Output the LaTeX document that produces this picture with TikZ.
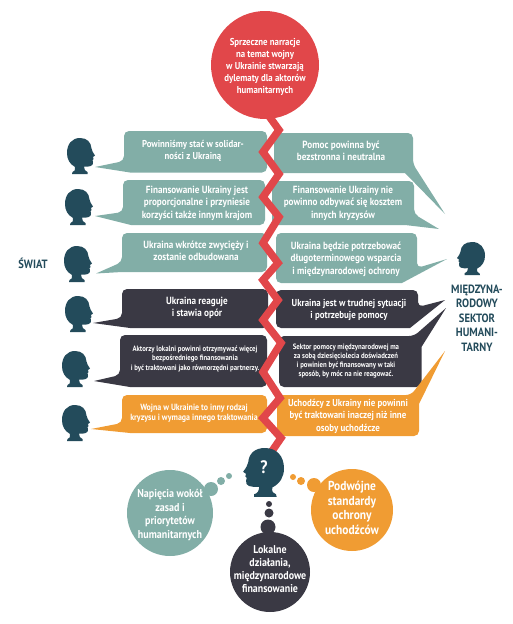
\documentclass[tikz,border=0pt]{standalone}
\usepackage{fontspec}
\setmainfont{PT Sans}[BoldFont={PT Sans Bold},FakeStretch=0.88]
\definecolor{cteal}{HTML}{82AEA7}
\definecolor{cdark}{HTML}{3A3944}
\definecolor{corange}{HTML}{F09C33}
\definecolor{cred}{HTML}{E1474A}
\definecolor{chead}{HTML}{234B5B}
\newcommand{\myhead}[1]{\begin{scope}[#1]
    \fill[chead] (5,36) -- (5.5,34) .. controls (7.5,33.5) and (8.5,32) .. (8,29)
      .. controls (2.5,26) and (0,21) .. (0,15)
      .. controls (0,6) and (5,0) .. (13,0)
      .. controls (20,0) and (24,4) .. (24.5,10.5)
      .. controls (25,13) and (26,14.5) .. (28,17.5) -- (26,19) -- (26.5,21) -- (25.5,22) -- (26,24)
      .. controls (26.5,28) and (23,29) .. (17,28.5)
      .. controls (17,31) and (18,33.5) .. (20.5,34) -- (20.5,36) -- cycle;
\end{scope}}
\tikzset{
  txt/.style={text=white,align=center,inner sep=0pt,font=\bfseries\fontsize{10.4}{12.4}\selectfont},
  small/.style={txt,font=\bfseries\fontsize{7.7}{9.2}\selectfont},
  side/.style={text=chead,align=center,inner sep=0pt,font=\bfseries\fontsize{12}{14.5}\selectfont},
  bub/.style={fill=#1,rounded corners=5pt},
  disc/.style={circle,fill=#1,inner sep=0pt}
}
\begin{document}
\begin{tikzpicture}[x=1pt,y=-1pt]
\useasboundingbox (0,0) rectangle (513,624);
\coordinate (zstart) at (266,112);
\coordinate (zend) at (270,454);

% left bubbles
\fill[bub=cteal] (124,161) [sharp corners] -- (95,167) -- (130,172.5) [rounded corners=5pt] -- (267,172.5) -- (267,131) -- (124,131) -- cycle;
\fill[bub=cteal] (123,212) [sharp corners] -- (95,216) -- (131,225) [rounded corners=5pt] -- (265,225) -- (265,180) -- (123,180) -- cycle;
\fill[bub=cteal] (122,262) [sharp corners] -- (96,273.5) -- (122,272) [rounded corners=5pt] -- (267,272) -- (267,233) -- (122,233) -- cycle;
\fill[bub=cdark] (122,318) [sharp corners] -- (93,323) -- (130,328) [rounded corners=5pt] -- (268,328) -- (268,289) -- (122,289) -- cycle;
\fill[bub=cdark] (120,375) [sharp corners] -- (94,381) -- (130,387) [rounded corners=5pt] -- (267,387) -- (267,335) -- (120,335) -- cycle;
\fill[bub=corange] (122,423) [sharp corners] -- (91,429) -- (130,433) [rounded corners=5pt] -- (267,433) -- (267,395) -- (122,395) -- cycle;
% right bubbles
\fill[bub=cteal] (413,164) [sharp corners] -- (445,214) -- (405,173) [rounded corners=5pt] -- (274,173) -- (274,133) -- (413,133) -- cycle;
\fill[bub=cteal] (414,214) [sharp corners] -- (439,229) -- (405,225) [rounded corners=5pt] -- (272,225) -- (272,181) -- (414,181) -- cycle;
\fill[bub=cteal] (417,268) [sharp corners] -- (447,259) -- (402,283) [rounded corners=5pt] -- (276,283) -- (276,233) -- (417,233) -- cycle;
\fill[bub=cdark] (418,307) [sharp corners] -- (445,300) -- (410,328) [rounded corners=5pt] -- (276,328) -- (276,290) -- (418,290) -- cycle;
\fill[bub=cdark] (414,336) [sharp corners] -- (446,308) -- (421.5,347) [rounded corners=5pt] -- (421.5,387) -- (279,387) -- (279,336) -- cycle;
\fill[bub=corange] (411,395) [sharp corners] -- (445,351) -- (419,404) [rounded corners=5pt] -- (419,436) -- (277,436) -- (277,395) -- cycle;

% zigzag
\draw[cred,line width=7.5pt,line join=miter] (zstart) -- (279,130) -- (263,152) -- (279,174) -- (263,197) -- (279,217) -- (263,243) -- (278,263) -- (263,280) -- (278,300) -- (263,320) -- (281,343) -- (263,372) -- (280,398) -- (263,418) -- (281,438) -- (zend);
\node[disc=cred,minimum size=108pt] (title) at (265,65) {};
\node[txt,font=\bfseries\fontsize{10}{12}\selectfont] (titletext) at (265,67) {Sprzeczne narracje\\na temat wojny\\w Ukrainie stwarzają\\dylematy dla aktorów\\humanitarnych};

% bubble texts
\node[txt,font=\bfseries\fontsize{10}{12.4}\selectfont] (l1) at (193,151) {Powinniśmy stać w solidar-\\ności z Ukrainą};
\node[txt] (l2) at (197,203) {Finansowanie Ukrainy jest\\proporcjonalne i przyniesie\\korzyści także innym krajom};
\node[txt] (l3) at (196,251) {Ukraina wkrótce zwycięży i\\zostanie odbudowana};
\node[txt] (l4) at (197,308) {Ukraina reaguje\\i stawia opór};
\node[small] (l5) at (195,359) {Aktorzy lokalni powinni otrzymywać więcej\\bezpośredniego finansowania\\i być traktowani jako równorzędni partnerzy.};
\node[txt,font=\bfseries\fontsize{9}{10.5}\selectfont] (l6) at (194,413) {Wojna w Ukrainie to inny rodzaj\\kryzysu i wymaga innego traktowania};
\node[txt] (r1) at (341,151) {Pomoc powinna być\\bezstronna i neutralna};
\node[txt] (r2) at (343,203) {Finansowanie Ukrainy nie\\powinno odbywać się kosztem\\innych kryzysów};
\node[txt] (r3) at (346,259) {Ukraina będzie potrzebować\\długoterminowego wsparcia\\i międzynarodowej ochrony};
\node[txt,font=\bfseries\fontsize{10.1}{12.4}\selectfont] (r4) at (349,310) {Ukraina jest w trudnej sytuacji\\i potrzebuje pomocy};
\node[small] (r5) at (346,361) {Sektor pomocy międzynarodowej ma\\za sobą dziesięciolecia doświadczeń\\i powinien być finansowany w taki\\sposób, by móc na nie reagować.};
\node[txt,font=\bfseries\fontsize{10.1}{12.4}\selectfont] (r6) at (348,416) {Uchodźcy z Ukrainy nie powinni\\być traktowani inaczej niż inne\\osoby uchodźcze};

% heads
\myhead{shift={(67,138)}}
\myhead{shift={(65,189)}}
\myhead{shift={(64,246)}}
\myhead{shift={(65,296)}}
\myhead{shift={(62,351)}}
\myhead{shift={(62,405)}}
\myhead{shift={(485,242)},xscale=-1,yscale=0.92}
\myhead{shift={(284,448)},xscale=-1.46,yscale=1.36}
\node[text=white,inner sep=0pt,font=\bfseries\fontsize{18}{18}\selectfont] (q) at (264,467) {?};

\node[side] (world) at (33,263) {ŚWIAT};
\node[side] (sector) at (477,318) {MIĘDZYNA-\\RODOWY\\SEKTOR\\HUMANI-\\TARNY};

% thought circles
\node[disc=cteal,minimum size=86pt] (c1) at (170,513) {};
\node[disc=cteal,minimum size=14pt] (c1a) at (211,489) {};
\node[disc=cteal,minimum size=8pt] (c1b) at (221,481) {};
\node[disc=cteal,minimum size=6pt] (c1c) at (229,476) {};
\node[disc=corange,minimum size=82pt] (c2) at (352,510) {};
\node[disc=corange,minimum size=14pt] (c2a) at (314,485) {};
\node[disc=corange,minimum size=8pt] (c2b) at (301,481) {};
\node[disc=corange,minimum size=6pt] (c2c) at (293,477) {};
\node[disc=cdark,minimum size=80pt] (c3) at (270,572) {};
\node[disc=cdark,minimum size=15pt] (c3a) at (268,527) {};
\node[disc=cdark,minimum size=9pt] (c3b) at (269,513) {};
\node[disc=cdark,minimum size=6pt] (c3c) at (269,504) {};
\node[txt,font=\bfseries\fontsize{11.4}{13.8}\selectfont] (c1t) at (170,515) {Napięcia wokół\\zasad i\\priorytetów\\humanitarnych};
\node[txt,font=\bfseries\fontsize{13}{14.6}\selectfont] (c2t) at (352,508) {Podwójne\\standardy\\ochrony\\uchodźców};
\node[txt,font=\bfseries\fontsize{11.3}{12.8}\selectfont] (c3t) at (270,569) {Lokalne\\działania,\\międzynarodowe\\finansowanie};
\end{tikzpicture}
\end{document}
